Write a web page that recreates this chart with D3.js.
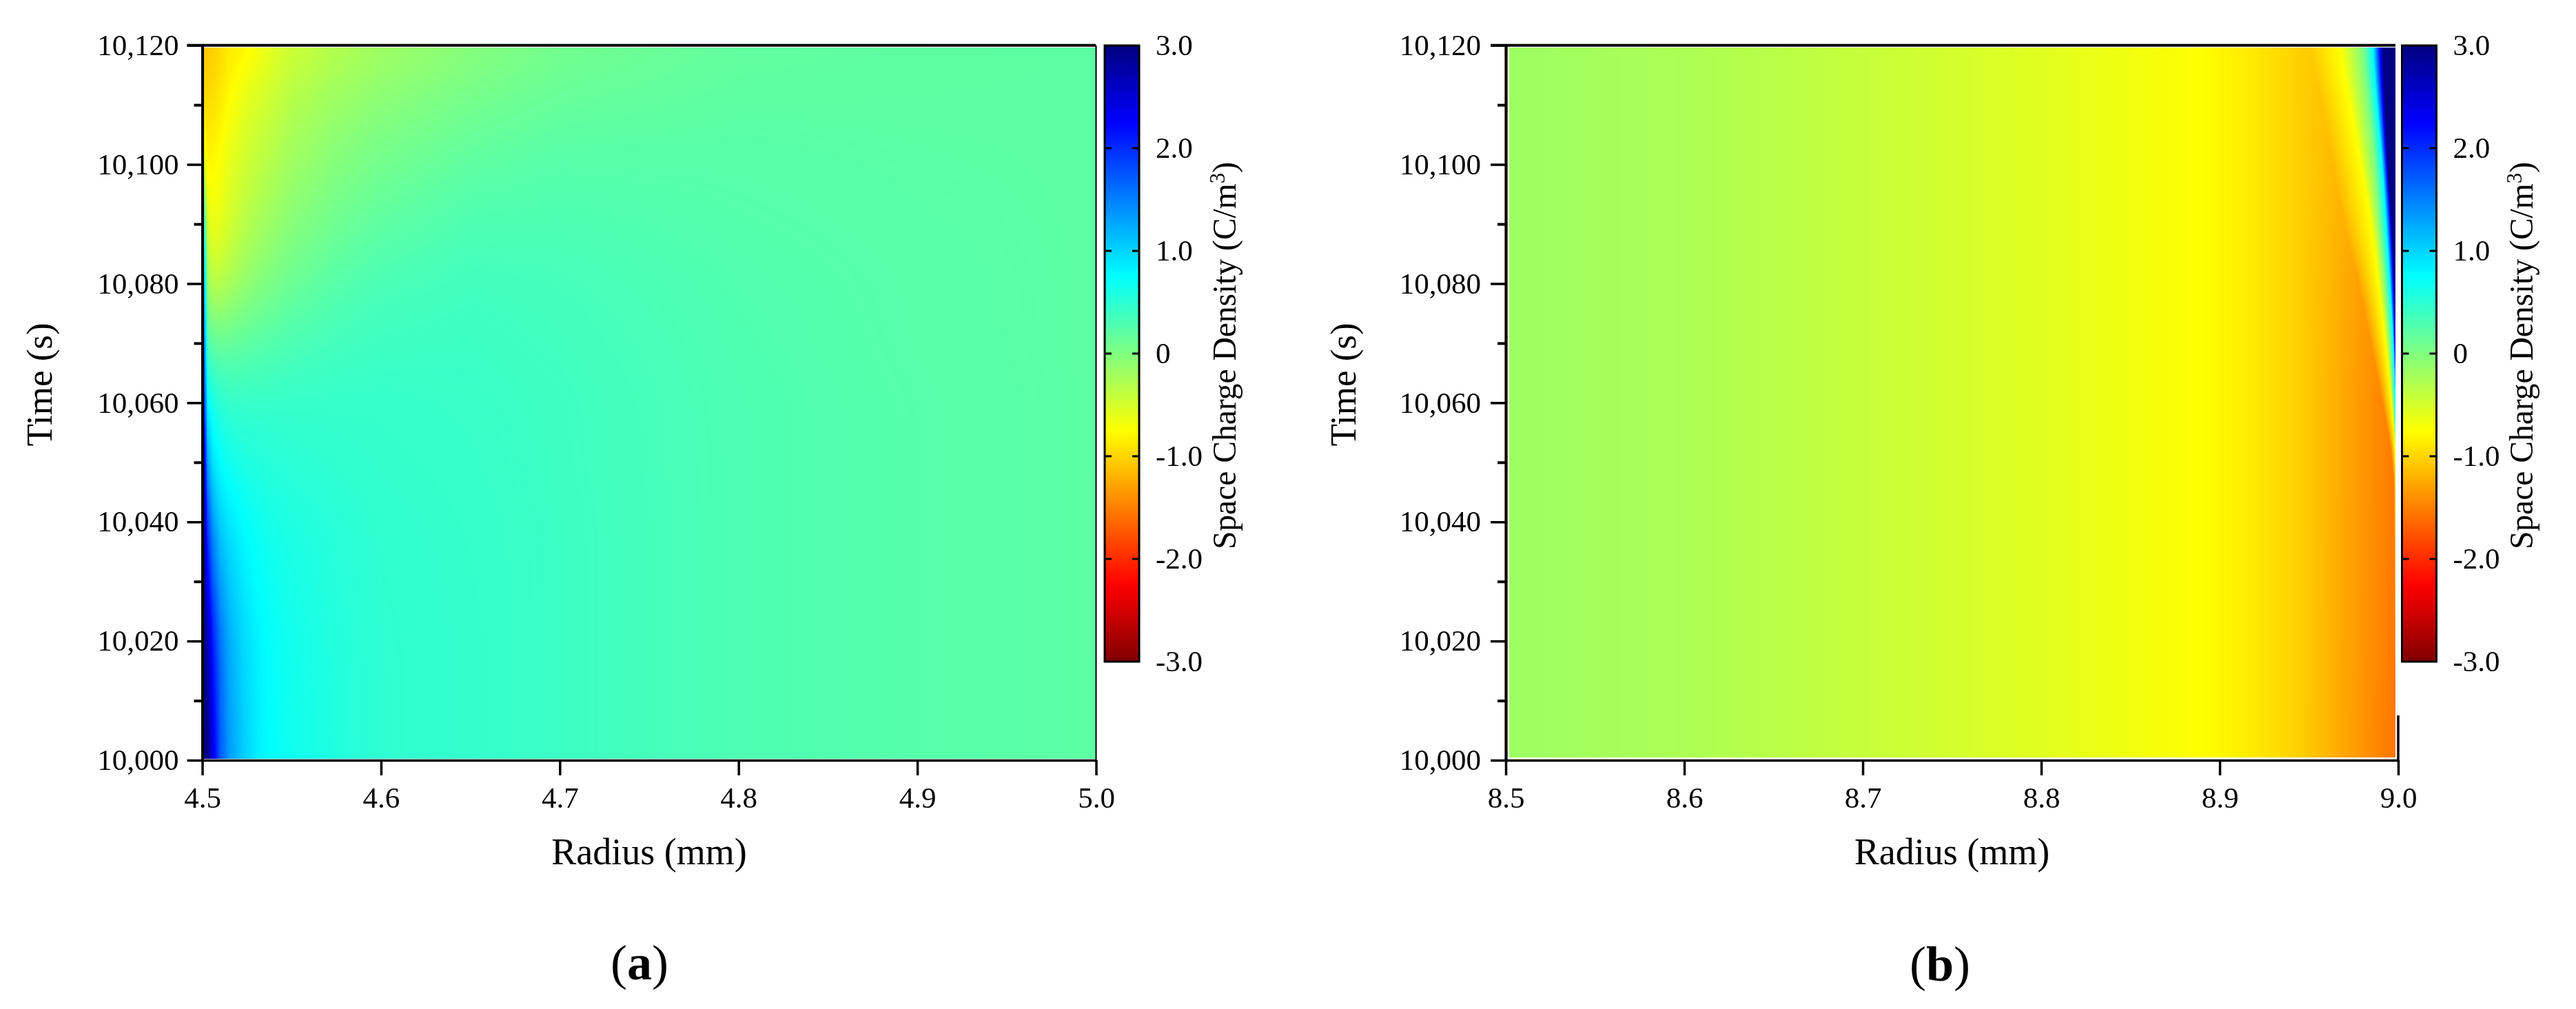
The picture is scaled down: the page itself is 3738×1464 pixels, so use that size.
<!DOCTYPE html>
<html>
<head>
<meta charset="utf-8">
<script src="https://cdn.jsdelivr.net/npm/d3@7"></script>
<style>
  body { margin: 0; background: #fff; }
  #chart { position: relative; width: 3738px; height: 1464px; overflow: hidden; }
  canvas, svg { position: absolute; left: 0; top: 0; }
  text { font-family: "Liberation Serif", serif; fill: #000; }
</style>
</head>
<body>
<div id="chart"></div>
<script>
// colour map: space charge density -> jet
const densityStops = [-3, -2.25, -0.75, 0, 0.75, 2.25, 3]
const densityColors = ['#800000', '#ff0000', '#ffff00', '#80ff80', '#00ffff', '#0000ff', '#000080']
const densityTicks = [-3, -2, -1, 0, 1, 2, 3]

const timeTicks = [10000, 10020, 10040, 10060, 10080, 10100, 10120]
const timeMinorTicks = [10010, 10030, 10050, 10070, 10090, 10110]
const radiusTicksA = [4.5, 4.6, 4.7, 4.8, 4.9, 5.0]
const radiusTicksB = [8.5, 8.6, 8.7, 8.8, 8.9, 9.0]

// panel a: values read along fixed radii, one row per time
const timesA = [10000, 10020, 10040, 10050, 10060, 10070, 10080, 10090, 10100, 10110, 10120]
const radiiA = [4.5, 4.501, 4.503, 4.506, 4.51, 4.515, 4.523, 4.531, 4.539, 4.55, 4.575, 4.6, 4.65, 4.7, 4.8, 4.9, 5.0]
const valuesA = [
  [3.4, 3.2, 3.0, 2.4, 1.75, 1.35, 1.05, 0.85, 0.74, 0.66, 0.56, 0.48, 0.45, 0.40, 0.30, 0.25, 0.21],
  [3.3, 3.1, 2.7, 2.1, 1.6, 1.25, 0.98, 0.82, 0.72, 0.65, 0.55, 0.48, 0.45, 0.40, 0.30, 0.25, 0.21],
  [3.2, 2.9, 1.9, 1.35, 1.05, 0.9, 0.76, 0.68, 0.63, 0.58, 0.52, 0.47, 0.44, 0.40, 0.30, 0.25, 0.21],
  [3.1, 2.6, 1.3, 0.9, 0.75, 0.65, 0.58, 0.55, 0.52, 0.5, 0.47, 0.45, 0.43, 0.39, 0.30, 0.25, 0.21],
  [2.6, 2.0, 0.8, 0.62, 0.52, 0.46, 0.44, 0.44, 0.44, 0.44, 0.44, 0.44, 0.42, 0.39, 0.30, 0.25, 0.21],
  [2.2, 1.6, 0.3, 0.2, 0.16, 0.17, 0.2, 0.24, 0.27, 0.31, 0.36, 0.39, 0.40, 0.37, 0.29, 0.24, 0.21],
  [1.6, 1.2, -0.15, -0.32, -0.33, -0.25, -0.13, -0.04, 0.03, 0.12, 0.25, 0.32, 0.37, 0.35, 0.28, 0.24, 0.21],
  [0.9, 0.6, -0.5, -0.66, -0.62, -0.5, -0.35, -0.24, -0.15, -0.04, 0.1, 0.2, 0.30, 0.30, 0.26, 0.23, 0.21],
  [0.2, -0.6, -0.8, -0.78, -0.72, -0.6, -0.48, -0.38, -0.3, -0.18, -0.02, 0.08, 0.20, 0.25, 0.24, 0.22, 0.21],
  [-0.8, -0.95, -0.95, -0.92, -0.86, -0.76, -0.6, -0.5, -0.42, -0.3, -0.15, -0.05, 0.08, 0.16, 0.21, 0.21, 0.21],
  [-1.1, -1.1, -1.07, -1.05, -0.98, -0.88, -0.83, -0.72, -0.6, -0.47, -0.32, -0.2, -0.05, 0.07, 0.17, 0.2, 0.21]
]

// panel b: the front near the outer wall moves, so each row has its own radii
const timesB = [10000, 10050, 10060, 10070, 10080, 10090, 10100, 10110, 10120]
const radiiB = [
  [8.5, 8.6, 8.7, 8.8, 8.89, 8.92, 8.945, 8.9985, 8.9994, 8.9995, 8.9996, 8.9997, 8.9998, 9.001],
  [8.5, 8.6, 8.7, 8.8, 8.89, 8.92, 8.945, 8.9975, 8.999, 8.9993, 8.9995, 8.9997, 8.9998, 9.001],
  [8.5, 8.6, 8.7, 8.8, 8.89, 8.92, 8.945, 8.9911, 8.9965, 8.9973, 8.9985, 8.9992, 8.9996, 9.001],
  [8.5, 8.6, 8.7, 8.8, 8.89, 8.92, 8.945, 8.9846, 8.993, 8.9954, 8.9973, 8.9981, 8.9988, 9.001],
  [8.5, 8.6, 8.7, 8.8, 8.89, 8.92, 8.945, 8.978, 8.989, 8.9927, 8.9954, 8.9973, 8.9981, 9.001],
  [8.5, 8.6, 8.7, 8.8, 8.89, 8.92, 8.945, 8.9692, 8.985, 8.9896, 8.9931, 8.9958, 8.9965, 9.001],
  [8.5, 8.6, 8.7, 8.8, 8.89, 8.92, 8.945, 8.9634, 8.979, 8.9869, 8.9911, 8.9934, 8.9942, 9.001],
  [8.5, 8.6, 8.7, 8.8, 8.89, 8.92, 8.945, 8.9576, 8.973, 8.9834, 8.988, 8.9915, 8.9927, 9.001],
  [8.5, 8.6, 8.7, 8.8, 8.89, 8.92, 8.945, 8.95, 8.9665, 8.9796, 8.9854, 8.9896, 8.9915, 9.001]
]
const valuesB = [
  [-0.17, -0.26, -0.41, -0.57, -0.75, -0.88, -1.03, -1.56, -0.75, 0, 0.75, 2.25, 3, 3.5],
  [-0.17, -0.26, -0.41, -0.57, -0.75, -0.88, -1.03, -1.53, -0.75, 0, 0.75, 2.25, 3, 3.5],
  [-0.17, -0.26, -0.41, -0.57, -0.75, -0.88, -1.03, -1.47, -0.75, 0, 0.75, 2.25, 3, 3.5],
  [-0.17, -0.26, -0.41, -0.57, -0.75, -0.88, -1.03, -1.38, -0.75, 0, 0.75, 2.25, 3, 3.5],
  [-0.17, -0.26, -0.41, -0.57, -0.75, -0.88, -1.03, -1.31, -0.75, 0, 0.75, 2.25, 3, 3.5],
  [-0.17, -0.26, -0.41, -0.57, -0.75, -0.88, -1.03, -1.21, -0.75, 0, 0.75, 2.25, 3, 3.5],
  [-0.17, -0.26, -0.41, -0.57, -0.75, -0.88, -1.03, -1.15, -0.75, 0, 0.75, 2.25, 3, 3.5],
  [-0.17, -0.26, -0.41, -0.57, -0.75, -0.88, -1.03, -1.10, -0.75, 0, 0.75, 2.25, 3, 3.5],
  [-0.17, -0.26, -0.41, -0.57, -0.75, -0.88, -1.03, -1.04, -0.75, 0, 0.75, 2.25, 3, 3.5]
]

const WIDTH = 3738
const HEIGHT = 1464

const panels = [
  {
    id: 'a', times: timesA, radii: valuesA.map(() => radiiA), values: valuesA, ticks: radiusTicksA,
    xRange: [293.5, 1590.5], heat: { x0: 296, x1: 1590, y0: 69, y1: 1101 },
    topEnd: 1590, spineTop: 66, legendX: 1603, titleX: 1793, timeX: 75, labelX: 928, labelY: 1421, padLeft: 12
  },
  {
    id: 'b', times: timesB, radii: radiiB, values: valuesB, ticks: radiusTicksB,
    xRange: [2185, 3480], heat: { x0: 2190, x1: 3476, y0: 69, y1: 1099 },
    topEnd: 3476, spineTop: 1038, legendX: 3485.5, titleX: 3675, timeX: 1967, labelX: 2815, labelY: 1423, padLeft: 14
  }
]

const chart = d3.select('#chart')
const color = d3.scaleLinear().domain(densityStops).range(densityColors).clamp(true)
const yScale = d3.scaleLinear().domain([10000, 10120]).range([1103, 65.7])
const legendScale = d3.scaleLinear().domain([-3, 3]).range([960, 66])

// lookup table so we don't parse a colour string per pixel
const lutScale = d3.scaleLinear().domain([-3, 3]).range([0, 2047]).clamp(true)
const lut = d3.range(2048).map((i) => d3.rgb(color(lutScale.invert(i))))

// shading only: soften the kinks between rows by sampling a few neighbours
const rowSamples = [-40, -20, 0, 20, 40]

function drawHeat (p, x) {
  let { x0, x1, y0, y1 } = p.heat
  let w = x1 - x0
  let h = y1 - y0
  let canvas = chart.append('canvas')
    .attr('width', w).attr('height', h)
    .style('left', x0 + 'px').style('top', y0 + 'px')
  let ctx = canvas.node().getContext('2d')
  let img = ctx.createImageData(w, h)

  let n = p.radii[0].length
  let rowScale = d3.scaleLinear().domain(p.times).range(d3.range(p.times.length)).clamp(true)
  for (let j = 0; j < h; j++) {
    let rr = new Array(n).fill(0)
    let vv = new Array(n).fill(0)
    rowSamples.forEach((dy) => {
      // blend the two neighbouring rows, radii and values both
      let pos = rowScale(yScale.invert(y0 + j + 0.5 + dy))
      let lo = Math.min(Math.floor(pos), p.times.length - 2)
      let f = pos - lo
      for (let k = 0; k < n; k++) {
        rr[k] += (p.radii[lo][k] + (p.radii[lo + 1][k] - p.radii[lo][k]) * f) / rowSamples.length
        vv[k] += (p.values[lo][k] + (p.values[lo + 1][k] - p.values[lo][k]) * f) / rowSamples.length
      }
    })
    let profile = d3.scaleLinear().domain(rr).range(vv).clamp(true)
    for (let i = 0; i < w; i++) {
      let c = lut[Math.round(lutScale(profile(x.invert(x0 + i + 0.5))))]
      let base = (j * w + i) * 4
      img.data[base] = c.r
      img.data[base + 1] = c.g
      img.data[base + 2] = c.b
      img.data[base + 3] = 255
    }
  }
  ctx.putImageData(img, 0, 0)
}

function styleAxis (g, fontSize, width) {
  g.selectAll('text').style('font-size', fontSize + 'px').style('fill', '#000')
  g.selectAll('line').attr('stroke', '#000').attr('stroke-width', width)
  g.select('.domain').attr('stroke', '#000').attr('stroke-width', width)
}

function drawAxes (svg, p, x) {
  let g = svg.append('g')

  // x axis
  g.append('g').attr('transform', 'translate(0,1103)')
    .call(d3.axisBottom(x).tickValues(p.ticks).tickFormat(d3.format('.1f'))
      .tickSize(22).tickSizeOuter(0).tickPadding(16))
    .call(styleAxis, 43, 3.5)

  // y axis, minor ticks first
  let left = x.range()[0]
  g.append('g').attr('transform', `translate(${left},0)`)
    .call(d3.axisLeft(yScale).tickValues(timeMinorTicks).tickFormat('').tickSize(12).tickSizeOuter(0))
    .call(styleAxis, 43, 4)
  g.append('g').attr('transform', `translate(${left},0)`)
    .call(d3.axisLeft(yScale).tickValues(timeTicks).tickFormat(d3.format(','))
      .tickSize(22).tickSizeOuter(0).tickPadding(p.padLeft))
    .call(styleAxis, 43, 3.5)

  // top line and right spine
  g.append('line')
    .attr('x1', left - 22).attr('x2', p.topEnd)
    .attr('y1', yScale(10120)).attr('y2', yScale(10120))
    .attr('stroke', '#000').attr('stroke-width', 4)
  g.append('line')
    .attr('x1', x.range()[1]).attr('x2', x.range()[1])
    .attr('y1', p.spineTop).attr('y2', 1103)
    .attr('stroke', '#000').attr('stroke-width', p.id === 'a' ? 2 : 3.5)

  // titles
  g.append('text')
    .attr('x', (x.range()[0] + x.range()[1]) / 2).attr('y', 1254)
    .attr('text-anchor', 'middle').style('font-size', '54px')
    .text('Radius (mm)')
  g.append('text')
    .attr('transform', `translate(${p.timeX},558) rotate(-90)`)
    .attr('text-anchor', 'middle').style('font-size', '53px')
    .text('Time (s)')

  let label = g.append('text')
    .attr('x', p.labelX).attr('y', p.labelY)
    .attr('text-anchor', 'middle').style('font-size', '72px')
  label.append('tspan').text('(')
  label.append('tspan').style('font-weight', 'bold').text(p.id)
  label.append('tspan').text(')')
}

function drawLegend (svg, defs, p) {
  let x0 = p.legendX
  let barWidth = 50
  let grad = defs.append('linearGradient')
    .attr('id', 'jet-' + p.id)
    .attr('x1', 0).attr('x2', 0).attr('y1', 1).attr('y2', 0)
  densityStops.forEach((d, i) => {
    grad.append('stop')
      .attr('offset', (d + 3) / 6)
      .attr('stop-color', densityColors[i])
  })

  let g = svg.append('g')
  g.append('rect')
    .attr('x', x0).attr('y', legendScale(3))
    .attr('width', barWidth).attr('height', legendScale(-3) - legendScale(3))
    .attr('fill', `url(#jet-${p.id})`)
    .attr('stroke', '#000').attr('stroke-width', 3)

  // short inner ticks on both sides
  let inner = densityTicks.filter((d) => d > -3 && d < 3)
  g.selectAll('line.left').data(inner).enter().append('line')
    .attr('x1', x0).attr('x2', x0 + 10)
    .attr('y1', (d) => legendScale(d)).attr('y2', (d) => legendScale(d))
    .attr('stroke', '#000').attr('stroke-width', 3)
  g.selectAll('line.right').data(inner).enter().append('line')
    .attr('x1', x0 + barWidth - 10).attr('x2', x0 + barWidth)
    .attr('y1', (d) => legendScale(d)).attr('y2', (d) => legendScale(d))
    .attr('stroke', '#000').attr('stroke-width', 3)

  let axis = d3.axisRight(legendScale).tickValues(densityTicks)
    .tickFormat((d) => d === 0 ? '0' : d3.format('.1f')(d).replace('\u2212', '-'))
    .tickSize(0).tickPadding(24)
  g.append('g').attr('transform', `translate(${x0 + barWidth},0)`)
    .call(axis)
    .call(styleAxis, 43, 0)
    .call((s) => s.select('.domain').remove())

  let title = g.append('text')
    .attr('transform', `translate(${p.titleX},516) rotate(-90)`)
    .attr('text-anchor', 'middle').style('font-size', '47.5px')
  title.append('tspan').text('Space Charge Density (C/m')
  title.append('tspan').attr('dy', -16).style('font-size', '31px').text('3')
  title.append('tspan').attr('dy', 16).text(')')
}

const scales = panels.map((p) => d3.scaleLinear()
  .domain([p.ticks[0], p.ticks[p.ticks.length - 1]]).range(p.xRange))

panels.forEach((p, i) => drawHeat(p, scales[i]))

const svg = chart.append('svg').attr('width', WIDTH).attr('height', HEIGHT)
const defs = svg.append('defs')
panels.forEach((p, i) => {
  drawAxes(svg, p, scales[i])
  drawLegend(svg, defs, p)
})
</script>
</body>
</html>
